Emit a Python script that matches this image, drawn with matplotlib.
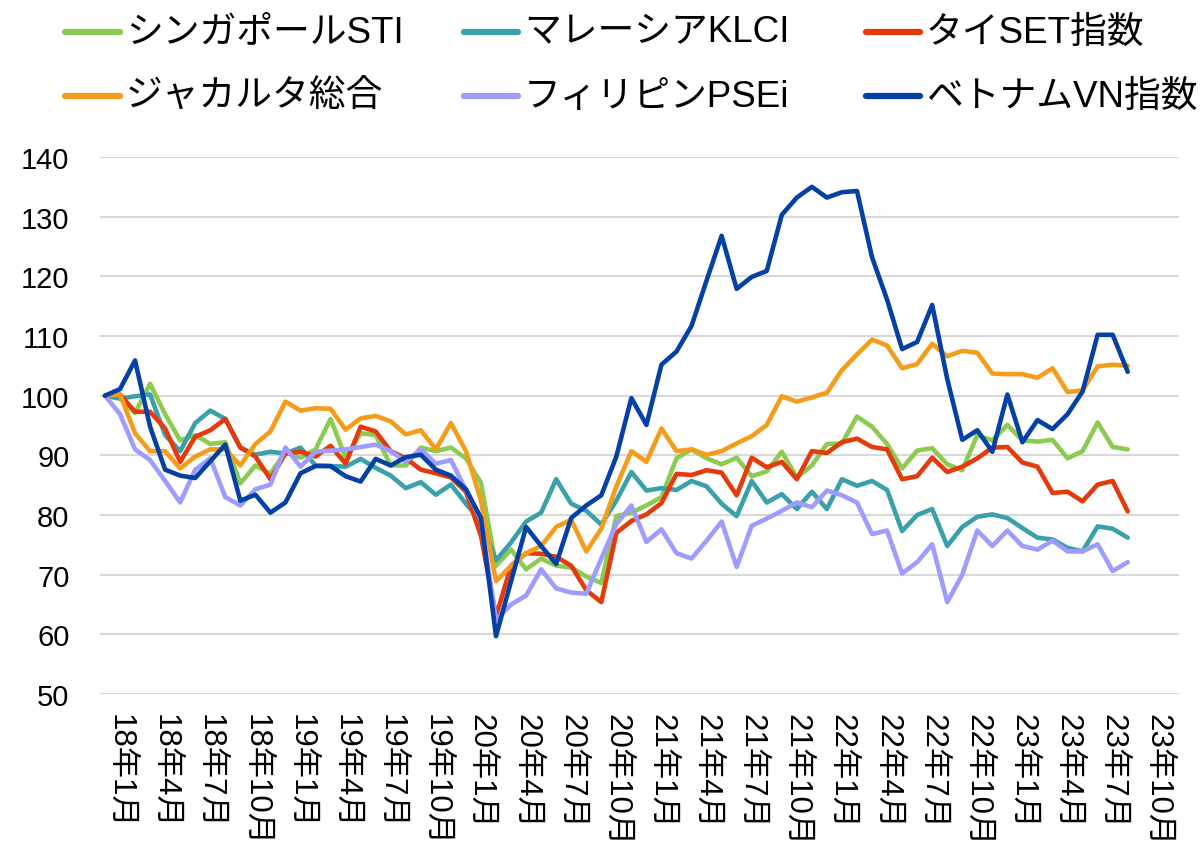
import numpy as np
import matplotlib
matplotlib.use("Agg")
import matplotlib.pyplot as plt
from matplotlib.lines import Line2D

plt.rcParams['font.family'] = ['Liberation Sans', 'Noto Sans CJK JP']

# ---- data (index, 2018/1 = 100) ----
series_names = ['シンガポールSTI', 'マレーシアKLCI', 'タイSET指数',
                'ジャカルタ総合', 'フィリピンPSEi', 'ベトナムVN指数']
colors = ['#8CCB52', '#3AA0A9', '#E43A0C', '#F49D1B', '#9E9CFE', '#0540A6']

singapore = [100, 99.6, 97.1, 102.0, 96.9, 92.5, 93.4, 91.9, 92.2, 85.3,
             88.3, 86.9, 90.6, 89.6, 91.0, 96.1, 89.6, 93.7, 93.4, 88.3,
             88.3, 91.3, 90.7, 91.3, 89.5, 85.4, 71.5, 74.2, 70.9, 72.7,
             71.5, 71.2, 69.7, 68.6, 79.8, 80.4, 81.6, 83.0, 89.5, 91.0,
             89.5, 88.5, 89.6, 86.5, 87.3, 90.6, 86.3, 88.3, 91.9, 92.0,
             96.5, 94.8, 91.9, 87.8, 90.8, 91.2, 88.5, 87.5, 93.4, 92.5,
             95.1, 92.5, 92.3, 92.6, 89.5, 90.7, 95.5, 91.4, 91.0]
malaysia = [100, 99.5, 99.9, 100.2, 93.4, 90.7, 95.4, 97.5, 96.1, 91.3,
            90.1, 90.6, 90.3, 91.3, 88.3, 88.2, 88.1, 89.4, 87.9, 86.6,
            84.5, 85.5, 83.4, 85.1, 81.9, 78.9, 72.4, 75.4, 78.9, 80.4,
            86.0, 81.9, 80.7, 78.4, 82.4, 87.2, 84.1, 84.5, 84.2, 85.7,
            84.8, 81.9, 79.8, 85.7, 82.1, 83.5, 81.0, 83.9, 81.0, 86.0,
            84.9, 85.7, 84.2, 77.3, 80.0, 81.0, 74.8, 78.0, 79.7, 80.1,
            79.5, 77.8, 76.2, 75.9, 74.5, 73.9, 78.1, 77.7, 76.2]
thailand = [100, 100.2, 97.3, 97.3, 94.5, 88.9, 93.1, 94.2, 96.1, 91.3,
            89.8, 86.0, 90.3, 90.6, 89.8, 91.6, 88.6, 94.8, 94.0, 90.7,
            89.5, 87.6, 87.0, 86.3, 83.9, 76.5, 63.0, 71.5, 73.6, 73.5,
            73.0, 71.5, 67.4, 65.4, 77.0, 79.0, 80.1, 82.0, 86.9, 86.7,
            87.5, 87.1, 83.3, 89.6, 88.0, 88.9, 86.0, 90.7, 90.4, 92.2,
            92.8, 91.4, 91.0, 86.0, 86.5, 89.6, 87.2, 88.1, 89.5, 91.3,
            91.4, 88.8, 88.1, 83.7, 83.9, 82.3, 85.1, 85.7, 80.6]
jakarta = [100, 100.2, 93.7, 90.7, 90.7, 87.8, 89.8, 91.0, 91.0, 88.3,
           91.9, 94.0, 99.0, 97.5, 97.9, 97.8, 94.3, 96.2, 96.6, 95.7,
           93.5, 94.2, 91.0, 95.4, 90.7, 82.4, 68.9, 71.5, 73.6, 74.8,
           78.0, 79.2, 73.9, 77.7, 84.8, 90.7, 88.9, 94.5, 90.7, 91.0,
           90.1, 90.7, 92.0, 93.2, 95.1, 99.9, 99.0, 99.7, 100.5, 104.3,
           106.9, 109.4, 108.4, 104.6, 105.3, 108.7, 106.6, 107.5, 107.2, 103.7,
           103.6, 103.6, 103.0, 104.6, 100.6, 100.9, 104.9, 105.2, 105.0]
philippines = [100, 96.9, 91.0, 89.2, 85.7, 82.1, 87.6, 89.5, 83.0, 81.6,
               84.3, 85.1, 91.3, 88.1, 90.6, 90.8, 91.0, 91.4, 91.8, 90.7,
               88.9, 91.0, 88.6, 89.2, 84.2, 79.2, 62.4, 65.0, 66.5, 70.9,
               67.7, 67.0, 66.8, 72.7, 78.5, 81.6, 75.5, 77.6, 73.6, 72.7,
               75.7, 78.9, 71.3, 78.2, 79.4, 80.7, 82.1, 81.3, 84.1, 83.3,
               82.1, 76.8, 77.4, 70.2, 72.1, 75.1, 65.4, 70.0, 77.4, 74.8,
               77.4, 74.8, 74.2, 75.7, 73.9, 73.9, 75.1, 70.6, 72.1]
vietnam = [100, 101.1, 105.9, 94.8, 87.6, 86.6, 86.2, 89.0, 91.8, 82.4,
           83.4, 80.4, 82.1, 87.0, 88.2, 88.2, 86.5, 85.6, 89.4, 88.3,
           89.7, 90.1, 87.6, 86.6, 84.3, 79.5, 59.7, 68.9, 78.0, 74.8,
           71.8, 79.5, 81.6, 83.3, 89.8, 99.6, 95.1, 105.2, 107.4, 111.7,
           119.3, 126.8, 117.9, 119.9, 120.9, 130.3, 133.2, 135.0, 133.2, 134.1,
           134.3, 123.2, 116.1, 107.8, 109.0, 115.2, 102.8, 92.6, 94.2, 90.6,
           100.2, 92.2, 95.9, 94.4, 96.9, 100.7, 110.2, 110.2, 104.0]

tick_labels = [f"{y}年{m}月" for y in range(18, 24) for m in (1, 4, 7, 10)]
y_ticks = list(range(50, 141, 10))

all_series = [singapore, malaysia, thailand, jakarta, philippines, vietnam]

# ---- figure ----
W, H = 1204, 845
fig = plt.figure(figsize=(W / 100, H / 100), dpi=100)
ax = fig.add_axes([100 / W, 1 - 695 / H, (1179 - 100) / W, (695 - 158) / H])

for vals, c, name in zip(all_series, colors, series_names):
    x = np.arange(len(vals))
    ax.plot(x, vals, color=c, lw=3.3, solid_joinstyle='round',
            solid_capstyle='round', label=name, zorder=3)

ax.set_ylim(50, 140)
ax.set_xlim(-0.33, 71.41)
ax.set_yticks(y_ticks)
ax.set_yticklabels([str(v) for v in y_ticks], fontsize=21)
tick_pos = np.arange(len(tick_labels)) * 3 + 1.0
ax.set_xticks(tick_pos)
ax.set_xticklabels(tick_labels, rotation=270, fontsize=22.5, va='top', ha='center')
ax.tick_params(axis='both', length=0)
ax.tick_params(axis='y', pad=22)
ax.tick_params(axis='x', pad=14)
ax.grid(axis='y', color='#D9D9D9', lw=1.5, zorder=0)
ax.set_axisbelow(True)
for s in ax.spines.values():
    s.set_visible(False)

# ---- legend (drawn manually to match spacing) ----
rows_y = [33, 97]
cols = [(65, 120, 126), (464, 518, 524), (866, 920, 926)]
order = [[0, 1, 2], [3, 4, 5]]
for r, row in enumerate(order):
    for cidx, si in enumerate(row):
        x0, x1, xt = cols[cidx]
        yy = 1 - rows_y[r] / H
        fig.add_artist(Line2D([x0 / W, x1 / W], [yy, yy], transform=fig.transFigure,
                              color=colors[si], lw=4.5, solid_capstyle='round'))
        fig.text(xt / W, yy, series_names[si], fontsize=26.5, va='center', ha='left',
                 color='black')

fig.savefig('out.png', dpi=100)
